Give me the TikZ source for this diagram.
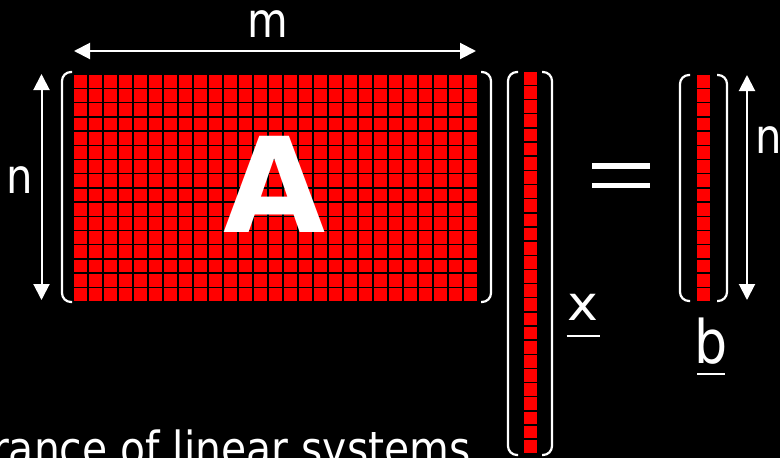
\documentclass[tikz,border=0pt]{standalone}
\usepackage{fontspec}
\setmainfont{DejaVu Sans}[FakeStretch=0.87]
\newfontfamily\bigA{DejaVu Sans}
\usetikzlibrary{arrows.meta,positioning}
\definecolor{cR}{HTML}{ff0000}
\tikzset{
  cell/.style={fill=cR},
  brak/.style={white,line width=2.2pt,rounded corners=9pt},
  dimarrow/.style={{Triangle[length=16pt,width=16pt]}-{Triangle[length=16pt,width=16pt]},
                   white,line width=2pt},
  lbl/.style={text=white,inner sep=0pt,anchor=base,font=\fontsize{48}{56}\selectfont},
  uline/.style={white,line width=2.6pt},
}

\begin{document}
\begin{tikzpicture}[x=1pt,y=-1pt]
  \fill[black] (0,0) rectangle (780,458);
  \useasboundingbox (0,0) rectangle (780,458);
  \clip (0,0) rectangle (780,458);

  % matrix A, vector x, vector b
  \foreach \i in {0,...,26}
    \foreach \j in {0,...,15}
      \path[cell] ({74+15*\i},{75+14.2*\j}) rectangle ++(13.4,12.7);
  \foreach \j in {0,...,26}
    \path[cell] (523.5,{72+14.15*\j}) rectangle ++(13.4,12.7);
  \foreach \j in {0,...,15}
    \path[cell] (697,{75+14.2*\j}) rectangle ++(13.4,12.7);

  % brackets
  \draw[brak] (72,72) -- (62,72) -- (62,302) -- (72,302);
  \draw[brak] (481,72) -- (491,72) -- (491,302) -- (481,302);
  \draw[brak] (518,72) -- (508,72) -- (508,455) -- (518,455);
  \draw[brak] (542,72) -- (552,72) -- (552,455) -- (542,455);
  \draw[brak] (690,75) -- (680,75) -- (680,301) -- (690,301);
  \draw[brak] (717,75) -- (727,75) -- (727,301) -- (717,301);

  % dimensions
  \coordinate (mW) at (74,51);
  \coordinate (mE) at (476,51);
  \coordinate (nN) at (41.5,74);
  \coordinate (nS) at (41.5,300);
  \coordinate (bN) at (747,75);
  \coordinate (bS) at (747,300);
  \draw[dimarrow] (mW) -- (mE);
  \draw[dimarrow] (nN) -- (nS);
  \draw[dimarrow] (bN) -- (bS);

  \node[lbl] (m) at (268,37) {m};
  \node[lbl] (nA) at (20,193) {n};
  \node[lbl] (nB) at (769,153) {n};
  \node[lbl,font=\bigA\bfseries\fontsize{132}{140}\selectfont] (A) at (275,232) {A};

  % equals
  \fill[white] (592,163) rectangle (650,168.5);
  \fill[white] (592,182.5) rectangle (650,188);

  \node[lbl] (x) at (583,320) {\scalebox{1.25}[1]{x}};
  \draw[uline] ([xshift=-16.5pt,yshift=-16pt]x.base) -- ([xshift=16.5pt,yshift=-16pt]x.base);
  \node[lbl,font=\fontsize{60}{70}\selectfont] (b) at (711,363) {b};
  \draw[uline] ([xshift=-14pt,yshift=-11pt]b.base) -- ([xshift=14pt,yshift=-11pt]b.base);

  \node[lbl,anchor=base east,font=\fontsize{47}{56}\selectfont] (cap) at (471,465) {rance of linear systems};
\end{tikzpicture}
\end{document}
